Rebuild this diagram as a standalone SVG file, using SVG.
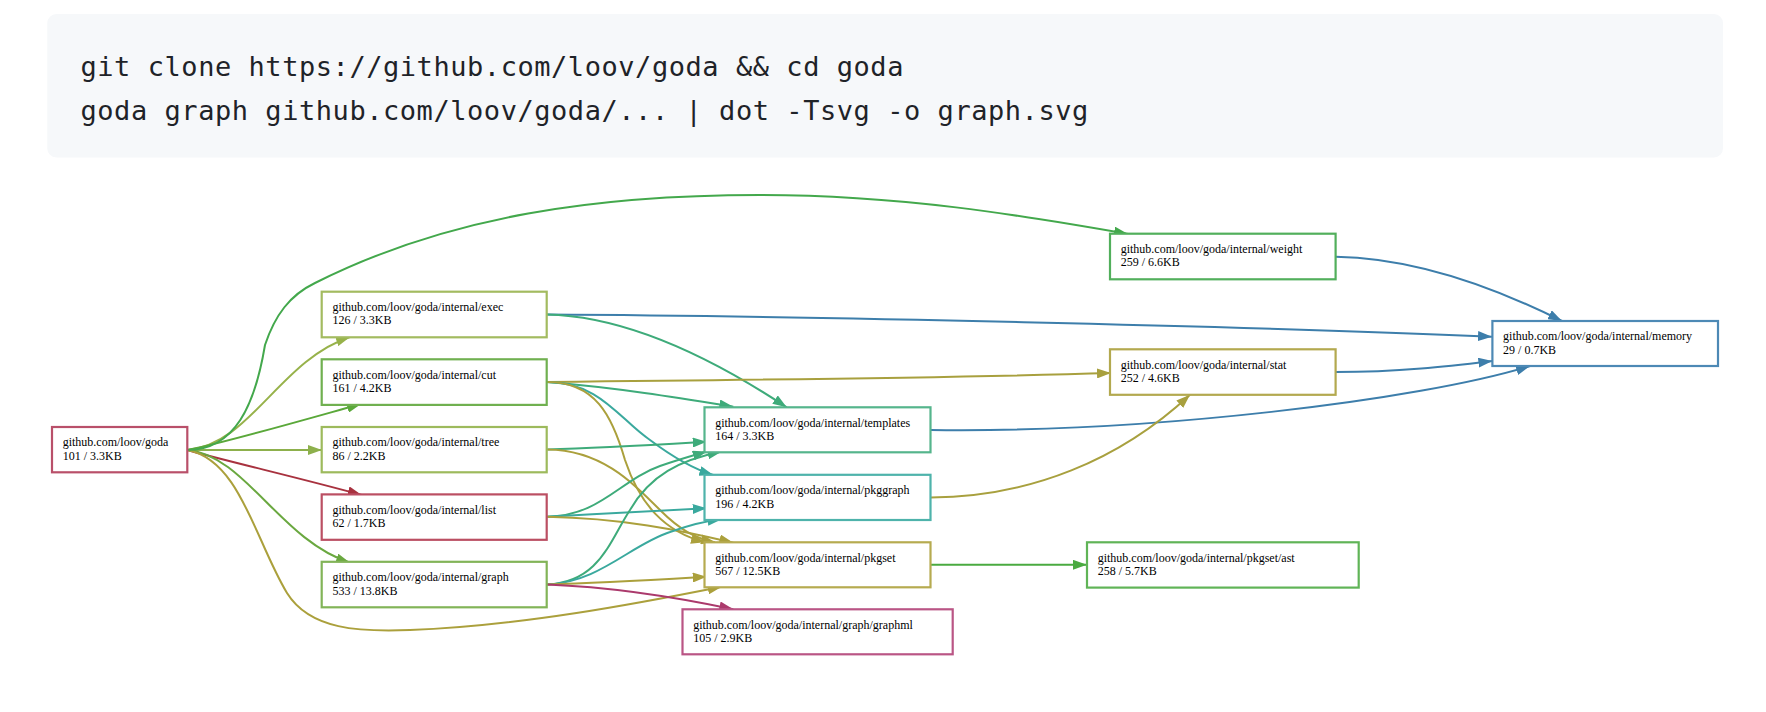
<svg xmlns="http://www.w3.org/2000/svg" width="1766" height="712" viewBox="0 0 1766 712">
<style>
.code{font-family:"DejaVu Sans Mono","Liberation Mono",monospace;font-size:27px;letter-spacing:0.55px;fill:#1f2328}
.node rect{fill:#fff;stroke-width:2.2}
.node text{font-family:"Liberation Serif","Times New Roman",serif;font-size:12px;fill:#000}
#edges path{fill:none;stroke-width:2}
</style>
<defs>
<marker id="m-exec" markerUnits="userSpaceOnUse" markerWidth="14" markerHeight="10" refX="14" refY="5" orient="auto"><path d="M0,0L14,5L0,10z" fill="#97b24a"/></marker>
<marker id="m-cut" markerUnits="userSpaceOnUse" markerWidth="14" markerHeight="10" refX="14" refY="5" orient="auto"><path d="M0,0L14,5L0,10z" fill="#5aa83a"/></marker>
<marker id="m-tree" markerUnits="userSpaceOnUse" markerWidth="14" markerHeight="10" refX="14" refY="5" orient="auto"><path d="M0,0L14,5L0,10z" fill="#8db04c"/></marker>
<marker id="m-list" markerUnits="userSpaceOnUse" markerWidth="14" markerHeight="10" refX="14" refY="5" orient="auto"><path d="M0,0L14,5L0,10z" fill="#a8323f"/></marker>
<marker id="m-graph" markerUnits="userSpaceOnUse" markerWidth="14" markerHeight="10" refX="14" refY="5" orient="auto"><path d="M0,0L14,5L0,10z" fill="#6aa840"/></marker>
<marker id="m-weight" markerUnits="userSpaceOnUse" markerWidth="14" markerHeight="10" refX="14" refY="5" orient="auto"><path d="M0,0L14,5L0,10z" fill="#43a84c"/></marker>
<marker id="m-memory" markerUnits="userSpaceOnUse" markerWidth="14" markerHeight="10" refX="14" refY="5" orient="auto"><path d="M0,0L14,5L0,10z" fill="#3d7eab"/></marker>
<marker id="m-stat" markerUnits="userSpaceOnUse" markerWidth="14" markerHeight="10" refX="14" refY="5" orient="auto"><path d="M0,0L14,5L0,10z" fill="#a8a03e"/></marker>
<marker id="m-templates" markerUnits="userSpaceOnUse" markerWidth="14" markerHeight="10" refX="14" refY="5" orient="auto"><path d="M0,0L14,5L0,10z" fill="#3eab7a"/></marker>
<marker id="m-pkggraph" markerUnits="userSpaceOnUse" markerWidth="14" markerHeight="10" refX="14" refY="5" orient="auto"><path d="M0,0L14,5L0,10z" fill="#3aa99e"/></marker>
<marker id="m-pkgset" markerUnits="userSpaceOnUse" markerWidth="14" markerHeight="10" refX="14" refY="5" orient="auto"><path d="M0,0L14,5L0,10z" fill="#aba03c"/></marker>
<marker id="m-ast" markerUnits="userSpaceOnUse" markerWidth="14" markerHeight="10" refX="14" refY="5" orient="auto"><path d="M0,0L14,5L0,10z" fill="#4aaa40"/></marker>
<marker id="m-graphml" markerUnits="userSpaceOnUse" markerWidth="14" markerHeight="10" refX="14" refY="5" orient="auto"><path d="M0,0L14,5L0,10z" fill="#ab3a6c"/></marker>
</defs>
<rect width="1766" height="712" fill="#fff"/>
<g id="codeblock">
<rect x="47.3" y="14" width="1675.7" height="143.5" rx="9" fill="#f6f8fa"/>
<text class="code" x="80.5" y="75.7">git clone https://github.com/loov/goda &amp;&amp; cd goda</text>
<text class="code" x="80.5" y="120">goda graph github.com/loov/goda/... | dot -Tsvg -o graph.svg</text>
</g>
<g id="edges">
<path d="M187.3,450 C250,445 280,360 350,337" stroke="#97b24a" marker-end="url(#m-exec)"/>
<path d="M187.3,450 C220,444 300,421 361,404" stroke="#5aa83a" marker-end="url(#m-cut)"/>
<path d="M187.3,450 L322,450" stroke="#8db04c" marker-end="url(#m-tree)"/>
<path d="M187.3,450 C230,462 300,478 361.7,495" stroke="#a8323f" marker-end="url(#m-list)"/>
<path d="M187.3,450 C245,455 280,540 350,562.7" stroke="#6aa840" marker-end="url(#m-graph)"/>
<path d="M187.3,450 C240,460 255,540 287,593 C310,630 360,632 410,630 C520,626 640,603 721.7,586.7" stroke="#aba03c" marker-end="url(#m-pkgset)"/>
<path d="M187.3,450 C235,450 255,405 265,345 C275,315 290,295 315,283 C450,215 600,195 760,195 C900,195 1020,215 1128,234" stroke="#43a84c" marker-end="url(#m-weight)"/>
<path d="M546.7,314.5 C800,316 1250,326 1492,336.7" stroke="#3d7eab" marker-end="url(#m-memory)"/>
<path d="M546.7,314.5 C620,316 700,350 786.7,407.3" stroke="#3eab7a" marker-end="url(#m-templates)"/>
<path d="M547,382 C750,380 950,378 1111,373" stroke="#a8a03e" marker-end="url(#m-stat)"/>
<path d="M547,382 C620,388 680,398 733.3,406.7" stroke="#3eab7a" marker-end="url(#m-templates)"/>
<path d="M547,382 C600,382 620,420 650,440 C670,455 690,468 713.3,475" stroke="#3aa99e" marker-end="url(#m-pkggraph)"/>
<path d="M547,382 C595,382 612,415 625,460 C640,505 665,532 705,542.3" stroke="#aba03c" marker-end="url(#m-pkgset)"/>
<path d="M547.3,449.5 C600,448 650,445 706.7,441.7" stroke="#3eab7a" marker-end="url(#m-templates)"/>
<path d="M547.3,449.5 C600,450 630,480 660,510 C680,530 695,538 715,542.3" stroke="#aba03c" marker-end="url(#m-pkgset)"/>
<path d="M547.3,516.7 C600,516 620,480 660,466 C680,459 695,455 706.7,451.5" stroke="#3eab7a" marker-end="url(#m-templates)"/>
<path d="M547.3,516.7 C600,514 650,511 706.7,508.3" stroke="#3aa99e" marker-end="url(#m-pkggraph)"/>
<path d="M547.3,516.7 C620,518 680,530 733.3,542.7" stroke="#aba03c" marker-end="url(#m-pkgset)"/>
<path d="M547.3,584.5 C600,582 610,540 630,510 C650,475 680,460 721.7,451.5" stroke="#3eab7a" marker-end="url(#m-templates)"/>
<path d="M547.3,584.5 C600,582 630,545 670,532 C690,525 705,521 721.7,519.3" stroke="#3aa99e" marker-end="url(#m-pkggraph)"/>
<path d="M547.3,584.5 C600,583 650,580 706.7,576.7" stroke="#aba03c" marker-end="url(#m-pkgset)"/>
<path d="M547.3,584.5 C610,587 680,598 733.3,609.3" stroke="#ab3a6c" marker-end="url(#m-graphml)"/>
<path d="M930.7,430 C1150,433 1420,400 1530,366" stroke="#3d7eab" marker-end="url(#m-memory)"/>
<path d="M930.7,497.5 C1030,497 1120,460 1190,394.7" stroke="#a8a03e" marker-end="url(#m-stat)"/>
<path d="M930.7,564.8 L1087,564.8" stroke="#4aaa40" marker-end="url(#m-ast)"/>
<path d="M1335.6,256.7 C1420,258 1500,290 1562,321" stroke="#3d7eab" marker-end="url(#m-memory)"/>
<path d="M1335.6,372 C1400,372 1450,366 1492.4,361" stroke="#3d7eab" marker-end="url(#m-memory)"/>
</g>
<g id="node-goda" class="node"><rect x="52" y="427" width="135.3" height="45.3" stroke="#b9506a"/><text x="62.7" y="446.4">github.com/loov/goda</text><text x="62.7" y="459.7">101 / 3.3KB</text></g>
<g id="node-exec" class="node"><rect x="321.7" y="291.7" width="225" height="45.6" stroke="#a3bb60"/><text x="332.4" y="311.1">github.com/loov/goda/internal/exec</text><text x="332.4" y="324.4">126 / 3.3KB</text></g>
<g id="node-cut" class="node"><rect x="321.7" y="359.3" width="225" height="45.6" stroke="#70b050"/><text x="332.4" y="378.7">github.com/loov/goda/internal/cut</text><text x="332.4" y="392">161 / 4.2KB</text></g>
<g id="node-tree" class="node"><rect x="321.7" y="427" width="225" height="45.3" stroke="#9dba5c"/><text x="332.4" y="446.4">github.com/loov/goda/internal/tree</text><text x="332.4" y="459.7">86 / 2.2KB</text></g>
<g id="node-list" class="node"><rect x="321.7" y="494.4" width="225" height="45.4" stroke="#bb4f63"/><text x="332.4" y="513.8">github.com/loov/goda/internal/list</text><text x="332.4" y="527.1">62 / 1.7KB</text></g>
<g id="node-graph" class="node"><rect x="321.7" y="561.8" width="225" height="45.5" stroke="#82b458"/><text x="332.4" y="581.2">github.com/loov/goda/internal/graph</text><text x="332.4" y="594.5">533 / 13.8KB</text></g>
<g id="node-templates" class="node"><rect x="704.5" y="407.3" width="226" height="45" stroke="#55b58c"/><text x="715.2" y="426.7">github.com/loov/goda/internal/templates</text><text x="715.2" y="440">164 / 3.3KB</text></g>
<g id="node-pkggraph" class="node"><rect x="704.5" y="474.8" width="226" height="45.2" stroke="#4eb3ab"/><text x="715.2" y="494.2">github.com/loov/goda/internal/pkggraph</text><text x="715.2" y="507.5">196 / 4.2KB</text></g>
<g id="node-pkgset" class="node"><rect x="704.5" y="542.3" width="226" height="45" stroke="#b6ab50"/><text x="715.2" y="561.7">github.com/loov/goda/internal/pkgset</text><text x="715.2" y="575">567 / 12.5KB</text></g>
<g id="node-graphml" class="node"><rect x="682.5" y="609.3" width="270.2" height="45" stroke="#ba5585"/><text x="693.2" y="628.7">github.com/loov/goda/internal/graph/graphml</text><text x="693.2" y="642">105 / 2.9KB</text></g>
<g id="node-weight" class="node"><rect x="1110" y="233.7" width="225.6" height="45.6" stroke="#52af5c"/><text x="1120.7" y="253.1">github.com/loov/goda/internal/weight</text><text x="1120.7" y="266.4">259 / 6.6KB</text></g>
<g id="node-stat" class="node"><rect x="1110" y="349.3" width="225.6" height="45.5" stroke="#b3a94f"/><text x="1120.7" y="368.7">github.com/loov/goda/internal/stat</text><text x="1120.7" y="382">252 / 4.6KB</text></g>
<g id="node-ast" class="node"><rect x="1087" y="542.3" width="271.7" height="45.3" stroke="#60b457"/><text x="1097.7" y="561.7">github.com/loov/goda/internal/pkgset/ast</text><text x="1097.7" y="575">258 / 5.7KB</text></g>
<g id="node-memory" class="node"><rect x="1492.4" y="321" width="225.6" height="45" stroke="#4d89b5"/><text x="1503.1" y="340.4">github.com/loov/goda/internal/memory</text><text x="1503.1" y="353.7">29 / 0.7KB</text></g>
</svg>
